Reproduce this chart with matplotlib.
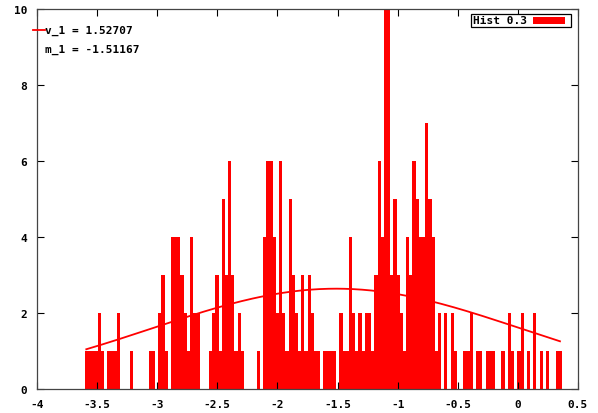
import numpy as np
import matplotlib
matplotlib.use('Agg')
import matplotlib.pyplot as plt
from matplotlib.lines import Line2D
from matplotlib.patches import Rectangle

# histogram: first bin edge, bin width, counts per bin
bin_start = -3.6
bin_width = 0.02644
counts = [1, 1, 1, 1, 2, 1, 0, 1, 1, 1, 2,
          0, 0, 0, 1, 0, 0, 0, 0, 0, 1, 1, 0, 2, 3, 1, 0,
          4, 4, 4, 3, 2, 1, 4, 2, 2,
          0, 0, 0, 1, 2, 3, 1, 5, 3, 6, 3, 1, 2, 1,
          0, 0, 0, 0, 1, 0, 4, 6, 6, 4,
          2, 6, 2, 1, 5, 3, 2, 1, 3, 1, 3, 2, 1, 1,
          0, 1, 1, 1, 1, 0, 2, 1, 1, 4, 2, 1, 2, 1, 2, 2, 1,
          3, 6, 4, 10, 10, 3, 5, 3, 2, 1, 4, 3, 6, 5, 4, 4, 7, 5, 4, 1, 2,
          0, 2, 0, 2, 1, 0, 0, 1, 1, 2, 0, 1, 1, 0, 1, 1, 1, 0, 0, 1,
          0, 2, 1, 0, 1, 2, 0, 1, 0, 2, 0, 1, 0, 1, 0, 0, 1, 1]

# fitted gaussian shown in the key
fit_sigma = 1.52707
fit_mean = -1.51167
fit_amp = 2.64
fit_x0, fit_x1 = -3.59, 0.35

xticks = [-4, -3.5, -3, -2.5, -2, -1.5, -1, -0.5, 0, 0.5]
xlabels = ['-4', '-3.5', '-3', '-2.5', '-2', '-1.5', '-1', '-0.5', '0', '0.5']
yticks = [0, 2, 4, 6, 8, 10]

plt.rcParams['font.family'] = ['DejaVu Sans Mono']
plt.rcParams['font.weight'] = 'bold'

W, H = 598, 414
fig = plt.figure(figsize=(W / 100, H / 100), dpi=100)
ax = fig.add_axes([37 / W, 24 / H, 541 / W, 380 / H])

edges = bin_start + bin_width * np.arange(len(counts))
ax.bar(edges, counts, width=bin_width, align='edge', color='red', linewidth=0)

xs = np.linspace(fit_x0, fit_x1, 300)
ax.plot(xs, fit_amp * np.exp(-(xs - fit_mean) ** 2 / (2 * fit_sigma ** 2)),
        color='red', lw=1.3)

ax.set_xlim(-4, 0.5)
ax.set_ylim(0, 10)
ax.set_xticks(xticks)
ax.set_xticklabels(xlabels)
ax.set_yticks(yticks)
ax.tick_params(direction='in', top=True, right=True, length=5, width=0.8,
               labelsize=8, pad=7)
for s in ax.spines.values():
    s.set_linewidth(0.9)
    s.set_color('#444444')

# left key (fit parameters)
fig.add_artist(Line2D([33 / W, 45 / W], [1 - 31 / H] * 2, color='red', lw=1.3))
fig.text(45 / W, 1 - 31 / H, 'v_1 = 1.52707', va='center', ha='left', fontsize=8)
fig.text(45 / W, 1 - 50 / H, 'm_1 = -1.51167', va='center', ha='left', fontsize=8)

# right key (histogram)
fig.add_artist(Rectangle((471 / W, 1 - 28 / H), 100 / W, 13 / H,
                         transform=fig.transFigure, facecolor='white',
                         edgecolor='black', lw=0.9))
fig.text(473 / W, 1 - 21.5 / H, 'Hist 0.3', va='center', ha='left', fontsize=8)
fig.add_artist(Rectangle((533 / W, 1 - 25 / H), 32 / W, 7 / H,
                         transform=fig.transFigure, facecolor='red', lw=0))

fig.savefig('out.png', dpi=100)
